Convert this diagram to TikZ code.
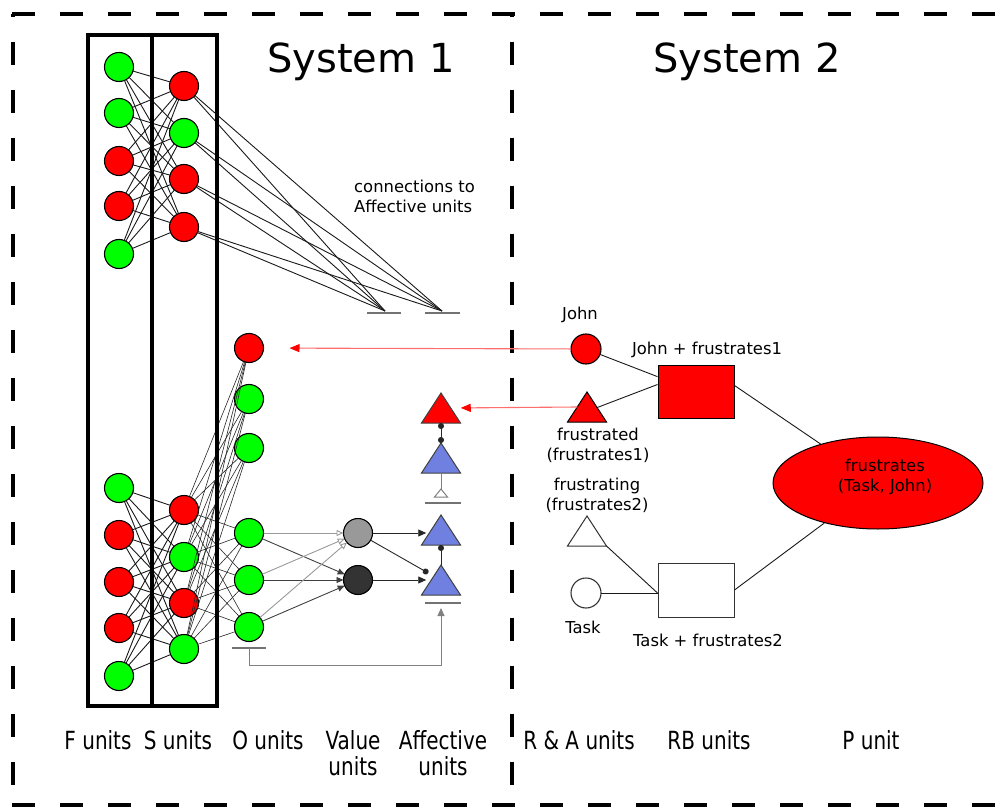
\documentclass[tikz,border=0pt]{standalone}
\usepackage{fontspec}
\setmainfont{DejaVu Sans}
\newfontfamily\condfont[FakeStretch=0.8]{DejaVu Sans}
\usepackage{xcolor}
\usetikzlibrary{arrows.meta,shapes.geometric}

\definecolor{affblue}{RGB}{112,128,224}
\definecolor{valgray}{RGB}{153,153,153}
\definecolor{valdark}{RGB}{51,51,51}
\definecolor{linkred}{RGB}{255,110,110}

\tikzset{
  unit/.style={circle, draw=black, line width=1.1pt, minimum size=29pt, inner sep=0pt, outer sep=0pt},
  afftri/.style={isosceles triangle, shape border rotate=90, isosceles triangle stretches,
    minimum width=39pt, minimum height=30pt, inner sep=0pt, outer sep=0pt,
    draw=black!75, line width=1pt, fill=affblue},
  rbox/.style={rectangle, draw=black, line width=1pt, minimum width=76pt, minimum height=53pt, inner sep=0pt},
  link/.style={draw=black!90, line width=0.9pt},
  thinlink/.style={draw=black!85, line width=0.6pt},
  inbar/.style={draw=black!55, line width=1.5pt},
  fbline/.style={draw=black!50, line width=1pt},
  tog/.style={draw=black!40, line width=0.9pt, -{Triangle[open, length=7pt, width=6pt]}},
  tod/.style={draw=black!75, line width=0.9pt, -{Triangle[length=7pt, width=6pt]}},
  excite/.style={draw=black!85, line width=0.9pt, -{Triangle[length=8pt, width=7pt]}},
  inhib/.style={draw=black!85, line width=0.9pt, -{Circle[length=6pt]}},
  redlink/.style={draw=linkred, line width=1.1pt, -{Triangle[length=10pt, width=8pt, color=red]}},
  sysline/.style={line width=3.5pt, dash pattern=on 23pt off 25pt},
  unitbox/.style={line width=3.5pt},
  lbl/.style={font=\fontsize{16.4}{20}\selectfont, inner sep=0pt, align=center},
  systitle/.style={font=\fontsize{40}{44}\selectfont, inner sep=0pt},
  colname/.style={font=\condfont\fontsize{25}{26}\selectfont, inner sep=0pt, align=center}
}

\begin{document}
\begin{tikzpicture}[x=1pt, y=-1pt]
    \useasboundingbox (0,0) rectangle (1006,810);

    % Dashed frame of the two systems
    \draw[sysline] (12,14) -- (1006,14);
    \draw[sysline] (12,805) -- (1006,805);
    \draw[sysline, dash phase=20pt] (13,14) -- (13,805);
    \draw[sysline, dash phase=20pt] (512,14) -- (512,805);

    % Titles
    \node[systitle] (sys1) at (361,62) {System 1};
    \node[systitle] (sys2) at (747,62) {System 2};

    % F and S units (upper group)
    \foreach \y/\c [count=\i] in {67/green,113/green,161/red,206/red,254/green}
        \node[unit, fill=\c] (ft\i) at (119,\y) {};
    \foreach \y/\c [count=\i] in {86/red,133/green,179/red,227/red}
        \node[unit, fill=\c] (st\i) at (184,\y) {};

    % F and S units (lower group)
    \foreach \y/\c [count=\i] in {488/green,535/red,582/red,628/red,676/green}
        \node[unit, fill=\c] (fb\i) at (119,\y) {};
    \foreach \y/\c [count=\i] in {510/red,557/green,603/red,649/green}
        \node[unit, fill=\c] (sb\i) at (184,\y) {};

    % O units
    \foreach \y/\c [count=\i] in {348/red,399/green,448/green,533/green,580/green,627/green}
        \node[unit, fill=\c] (o\i) at (249,\y) {};

    % Value units
    \node[unit, fill=valgray] (v1) at (358,533) {};
    \node[unit, fill=valdark] (v2) at (358,580) {};

    % Affective units
    \node[afftri, fill=red, anchor=apex] (a1) at (441,393) {};
    \node[afftri, anchor=apex] (a2) at (441,443) {};
    \node[afftri, anchor=apex] (a3) at (441,515) {};
    \node[afftri, anchor=apex] (a4) at (441,565) {};

    % Connections F -> S
    \foreach \i in {1,...,5} {
        \foreach \j in {1,...,4} {
            \draw[link] (ft\i) -- (st\j);
            \draw[link] (fb\i) -- (sb\j);
        }
    }

    % Connections S -> O
    \foreach \j in {1,...,4}
        \foreach \k in {1,...,6}
            \draw[thinlink] (sb\j) -- (o\k);

    % Connections to Affective units
    \coordinate (ca1) at (385,311);
    \coordinate (ca2) at (442,311);
    \foreach \j in {1,...,4} {
        \draw[link] (st\j) -- (ca1);
        \draw[link] (st\j) -- (ca2);
    }
    \draw[inbar] (367,313) -- (401,313);
    \draw[inbar] (425,313) -- (460,313);
    \node[lbl, align=left, anchor=west] (connL) at (354,196) {connections to\\Affective units};

    % O -> Value units
    \foreach \k in {4,5,6} {
        \draw[tog] (o\k) -- (v1);
        \draw[tod] (o\k) -- (v2);
    }

    % Value -> Affective units
    \draw[excite, shorten >=5pt] (v1) -- (v1 -| a3.left side);
    \draw[excite, shorten >=5pt] (v2) -- (v2 -| a4.left side);
    \draw[inhib] (v1) -- ([xshift=-3pt,yshift=7pt]a4.left side);
    \draw[inhib, {Circle[length=6pt]}-{Circle[length=6pt]}] (a1.lower side) -- (a2.apex);
    \draw[inhib, {Circle[length=6pt]}-] (a3.lower side) -- (a4.apex);

    % Inputs below the blue units
    \draw[fbline] (a2.lower side) -- (441,489);
    \draw[fbline, fill=white] (441,489) -- (447.5,497) -- (434.5,497) -- cycle;
    \draw[inbar] (425,503) -- (461,503);
    \coordinate (obar) at (249,648);
    \coordinate (abar) at (441,603);
    \draw[inbar] (232,648) -- (266,648);
    \draw[inbar] (425,603) -- (461,603);
    \draw[fbline, -{Triangle[length=8pt, width=7pt]}] (obar) -- ++(0,17) -| ([yshift=-5pt]abar);

    % Unit boxes
    \draw[unitbox] (88,35) rectangle (152,706);
    \draw[unitbox] (152,35) rectangle (217,706);

    % System 2 units
    \node[unit, fill=red, minimum size=30pt] (john) at (586,349) {};
    \node[afftri, fill=red, draw=black, anchor=apex] (fr) at (587,392) {};
    \node[afftri, fill=white, draw=black!80, anchor=apex] (fg) at (587,516) {};
    \node[unit, fill=white, draw=black!80, minimum size=30pt] (task) at (586,593) {};
    \node[rbox, fill=red] (rb1) at (696,391.5) {};
    \node[rbox, fill=white, draw=black!80, minimum height=54pt] (rb2) at (696,590) {};
    \node[ellipse, draw=black, line width=1pt, fill=red, minimum width=210pt, minimum height=92pt, inner sep=0pt] (pu) at (878,483) {};

    % System 2 connections
    \draw[link] (john) -- (rb1);
    \draw[link] (fr) -- ([yshift=7pt]rb1.west);
    \draw[link] (fg.right corner) -- ([yshift=-3pt]rb2.west);
    \draw[link] (task) -- (task -| rb2.west);
    \draw[link] ([yshift=6pt]rb1.east) -- (pu);
    \draw[link] (rb2.east) -- (pu);

    % Links back to System 1
    \draw[redlink, shorten >=26pt] (john) -- (o1);
    \draw[redlink, shorten >=10pt] (fr.left side) -- (a1.right side);

    % Labels
    \node[lbl] (johnL) at (580,315) {John};
    \node[lbl] (rb1L) at (707,350) {John + frustrates1};
    \node[lbl] (frL) at (598,445) {frustrated\\(frustrates1)};
    \node[lbl] (fgL) at (597,495) {frustrating\\(frustrates2)};
    \node[lbl] (taskL) at (583,627) {Task};
    \node[lbl] (rb2L) at (708,640) {Task + frustrates2};
    \node[lbl] (puL) at (885,477) {frustrates\\(Task, John)};

    % Column names
    \node[colname] (fN) at (98,740) {F units};
    \node[colname] (sN) at (178,740) {S units};
    \node[colname] (oN) at (268,740) {O units};
    \node[colname] (vN) at (353,753) {Value\\units};
    \node[colname] (aN) at (443,753) {Affective\\units};
    \node[colname] (raN) at (579,740) {R \& A units};
    \node[colname] (rbN) at (709,740) {RB units};
    \node[colname] (pN) at (871,740) {P unit};

\end{tikzpicture}
\end{document}
